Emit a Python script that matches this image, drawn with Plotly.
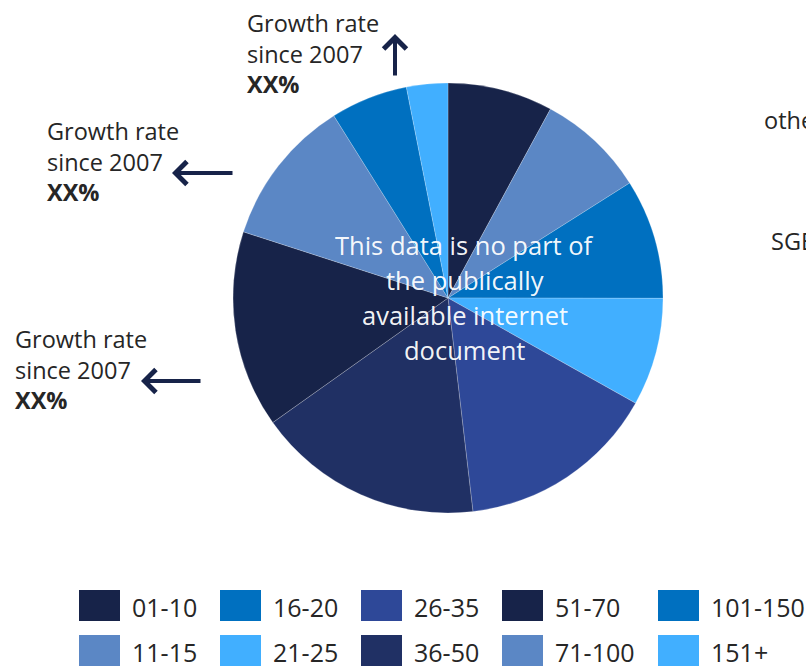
import plotly.graph_objects as go

# Company-size bands and their share of the total (percent)
size_bands = ["01-10", "11-15", "16-20", "21-25", "26-35",
              "36-50", "51-70", "71-100", "101-150", "151+"]
shares = [7.9, 8.1, 9.0, 8.1, 15.0, 17.0, 14.8, 11.1, 5.8, 3.1]
band_colors = ["#172349", "#5B87C5", "#0070C0", "#41AFFF", "#2E4898",
               "#203064", "#172349", "#5B87C5", "#0070C0", "#41AFFF"]

growth_label = "Growth rate<br>since 2007<br><b>XX%</b>"
watermark_lines = ["This data is no part of", "the publically",
                   "available internet", "document"]

W, H = 806, 667
FONT = "Open Sans"
INK = "#262626"
NAVY = "#172349"


def px(x):
    return x / W


def py(y):
    return 1 - y / H


fig = go.Figure()

# Pie: centred at (448, 298) with a 215 px radius
cx, cy, r = 448, 298, 215
fig.add_trace(go.Pie(
    labels=size_bands,
    values=shares,
    sort=False,
    direction="clockwise",
    rotation=0,
    marker=dict(colors=band_colors,
                line=dict(color="rgba(255,255,255,0.35)", width=0.6)),
    textinfo="none",
    hoverinfo="label+percent",
    showlegend=False,
    domain=dict(x=[px(cx - r), px(cx + r)], y=[py(cy + r), py(cy - r)]),
))

annotations = []

# Watermark over the pie, one line per annotation for wider leading
for k, line in enumerate(watermark_lines):
    annotations.append(dict(
        x=px(465), y=py(245 + 35 * k), xref="paper", yref="paper",
        text=line, showarrow=False, xanchor="center", yanchor="middle",
        font=dict(family=FONT, size=25.5, color="rgba(255,255,255,0.96)"),
    ))

# Growth-rate callouts (text blocks) with their arrows
callouts = [(245, 5), (45, 113), (13, 321)]
for lx, ty in callouts:
    annotations.append(dict(
        x=px(lx), y=py(ty), xref="paper", yref="paper",
        text=growth_label, showarrow=False,
        xanchor="left", yanchor="top", align="left",
        font=dict(family=FONT, size=23.5, color=INK),
    ))

# arrows: (tip x, tip y, tail offset x, tail offset y)
arrows = [(395, 34, 0, 43), (172, 173, 62, 0), (141, 381, 61, 0)]
for tx, ty, ax, ay in arrows:
    annotations.append(dict(
        x=px(tx), y=py(ty), xref="paper", yref="paper",
        ax=ax, ay=ay, text="", showarrow=True,
        arrowhead=4, arrowsize=1.1, arrowwidth=4, arrowcolor=NAVY,
    ))

# Partially visible labels on the right edge
for text, lx, yc in [("others", 762, 120), ("SGE", 769, 241)]:
    annotations.append(dict(
        x=px(lx), y=py(yc), xref="paper", yref="paper",
        text=text, showarrow=False, xanchor="left", yanchor="middle",
        font=dict(family=FONT, size=23.5, color=INK),
    ))

# Legend: two rows, filled column by column
shapes = []
col_x = [79, 220, 361, 502, 658]
row_y = [590, 635]
sw_w, sw_h = 41, 31
for i, (lab, col) in enumerate(zip(size_bands, band_colors)):
    c, rr = divmod(i, 2)
    x0, y0 = col_x[c], row_y[rr]
    shapes.append(dict(
        type="rect", xref="paper", yref="paper",
        x0=px(x0), x1=px(x0 + sw_w), y0=py(y0 + sw_h), y1=py(y0),
        fillcolor=col, line=dict(width=0),
    ))
    annotations.append(dict(
        x=px(x0 + 51), y=py(y0 + sw_h / 2 + 1), xref="paper", yref="paper",
        text=lab, showarrow=False, xanchor="left", yanchor="middle",
        font=dict(family=FONT, size=25, color=INK),
    ))

fig.update_layout(
    width=W, height=H,
    margin=dict(l=0, r=0, t=0, b=0),
    paper_bgcolor="white", plot_bgcolor="white",
    showlegend=False,
    annotations=annotations,
    shapes=shapes,
    font=dict(family=FONT),
)

fig.write_html("out.html")
